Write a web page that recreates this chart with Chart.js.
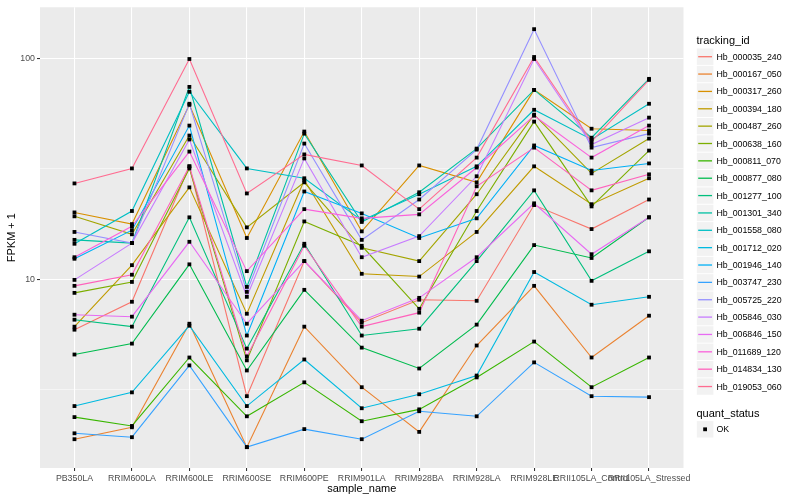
<!DOCTYPE html>
<html><head><meta charset="utf-8">
<script src="https://cdn.jsdelivr.net/npm/chart.js@4.4.0/dist/chart.umd.min.js"></script>
<style>
html,body{margin:0;padding:0;background:#fff;}
#wrap{position:relative;width:800px;height:500px;font-family:"Liberation Sans",Arial,Helvetica,sans-serif;overflow:hidden;}
#c{position:absolute;left:0;top:0;}
#keys{position:absolute;left:0;top:0;}
.lg{position:absolute;white-space:nowrap;color:#000;}
</style></head><body>
<div id="wrap"><canvas id="c" width="800" height="500"></canvas><svg id="keys" width="800" height="500" xmlns="http://www.w3.org/2000/svg"></svg><div id="legend"></div></div>
<script>
const categories = ["PB350LA","RRIM600LA","RRIM600LE","RRIM600SE","RRIM600PE","RRIM901LA","RRIM928BA","RRIM928LA","RRIM928LE","RRII105LA_Control","RRII105LA_Stressed"];
const seriesNames = ["Hb_000035_240","Hb_000167_050","Hb_000317_260","Hb_000394_180","Hb_000487_260","Hb_000638_160","Hb_000811_070","Hb_000877_080","Hb_001277_100","Hb_001301_340","Hb_001558_080","Hb_001712_020","Hb_001946_140","Hb_003747_230","Hb_005725_220","Hb_005846_030","Hb_006846_150","Hb_011689_120","Hb_014834_130","Hb_019053_060"];
const seriesColors = ["#F8766D","#EA8331","#D89000","#C09B00","#A3A500","#7CAE00","#39B600","#00BB4E","#00BF7D","#00C1A3","#00BFC4","#00BAE0","#00B0F6","#35A2FF","#9590FF","#C77CFF","#E76BF3","#FA62DB","#FF62BC","#FF6C91"];

const hb000035_240 = [5.92, 7.92, 32.5, 2.96, 12.1, 6.37, 8.09, 8.00, 21.7, 16.9, 23.0];
const hb000167_050 = [1.89, 2.14, 6.30, 1.74, 6.11, 3.25, 2.04, 5.02, 9.35, 4.43, 6.85];
const hb000317_260 = [20.1, 17.8, 61.7, 15.4, 46.7, 16.5, 32.8, 27.5, 72.1, 48.1, 47.2];
const hb000394_180 = [6.11, 11.6, 26.1, 6.99, 28.1, 10.6, 10.3, 16.4, 32.5, 21.9, 28.7];
const hb000487_260 = [19.3, 16.0, 44.8, 17.2, 27.5, 13.9, 12.1, 24.3, 55.7, 30.2, 43.4];
const hb000638_160 = [8.69, 9.74, 31.8, 4.30, 18.3, 14.2, 7.36, 20.4, 51.8, 21.4, 38.3];
const hb000811_070 = [2.38, 2.17, 4.43, 2.40, 3.42, 2.28, 2.58, 3.60, 5.23, 3.25, 4.43];
const hb000877_080 = [4.57, 5.12, 11.7, 3.87, 8.97, 4.91, 3.95, 6.24, 14.3, 12.5, 19.1];
const hb001277_100 = [6.57, 6.11, 19.1, 4.86, 14.5, 5.57, 5.98, 12.1, 25.3, 9.85, 13.4];
const hb001301_340 = [15.1, 14.6, 74.4, 9.25, 45.7, 18.2, 24.8, 39.1, 72.1, 43.8, 80.9];
const hb001558_080 = [14.5, 20.4, 70.7, 31.8, 28.7, 18.5, 24.3, 32.5, 58.6, 43.0, 62.4];
const hb001712_020 = [2.67, 3.08, 6.17, 2.67, 4.34, 2.61, 3.02, 3.67, 10.8, 7.68, 8.34];
const hb001946_140 = [12.4, 16.7, 49.7, 5.57, 25.0, 19.9, 15.4, 18.9, 40.4, 31.1, 33.5];
const hb003747_230 = [2.01, 1.93, 4.08, 1.74, 2.10, 1.89, 2.53, 2.40, 4.21, 2.96, 2.93];
const hb005725_220 = [16.4, 14.6, 62.4, 8.78, 41.2, 15.1, 23.0, 38.7, 135.8, 39.5, 45.7];
const hb005846_030 = [9.95, 14.6, 43.0, 8.34, 35.3, 12.6, 15.7, 29.3, 99.5, 40.8, 54.0];
const hb006846_150 = [6.92, 6.78, 14.8, 6.30, 12.1, 6.50, 8.25, 12.6, 22.1, 13.0, 19.1];
const hb011689_120 = [12.6, 17.4, 37.9, 10.9, 20.8, 18.9, 19.7, 32.1, 55.1, 35.6, 49.7];
const hb014834_130 = [9.35, 10.5, 32.5, 4.48, 14.2, 6.11, 7.07, 26.4, 39.5, 25.3, 29.9];
const hb019053_060 = [27.2, 31.8, 99.5, 24.5, 36.8, 32.8, 20.8, 35.6, 101.6, 42.1, 80.0];

const seriesValues = [hb000035_240, hb000167_050, hb000317_260, hb000394_180, hb000487_260, hb000638_160, hb000811_070, hb000877_080, hb001277_100, hb001301_340, hb001558_080, hb001712_020, hb001946_140, hb003747_230, hb005725_220, hb005846_030, hb006846_150, hb011689_120, hb014834_130, hb019053_060];

const yTickValues = [3.1623, 10, 31.623, 100];
const yMajorLabels = {10: "10", 100: "100"};
const quantStatus = ["OK"];

const FONT = '"Liberation Sans", Arial, Helvetica, sans-serif';
const isMajor = v => Math.abs(v - 10) < 1e-6 || Math.abs(v - 100) < 1e-6;

const panelBg = {
  id: 'panelBg',
  beforeDraw(chart) {
    const {ctx, chartArea: a} = chart;
    ctx.save();
    ctx.fillStyle = '#EBEBEB';
    ctx.fillRect(a.left, a.top, a.right - a.left, a.bottom - a.top);
    ctx.restore();
  }
};
const blackPoints = {
  id: 'blackPoints',
  afterDatasetsDraw(chart) {
    const ctx = chart.ctx;
    ctx.save();
    ctx.fillStyle = '#000';
    chart.data.datasets.forEach((ds, i) => {
      chart.getDatasetMeta(i).data.forEach(p => {
        ctx.fillRect(p.x - 1.9, p.y - 1.9, 3.8, 3.8);
      });
    });
    ctx.restore();
  }
};

const datasets = seriesNames.map((name, i) => ({
  label: name,
  data: seriesValues[i].map((v, j) => ({x: j, y: v})),
  borderColor: seriesColors[i],
  backgroundColor: seriesColors[i],
  borderWidth: 1.1,
  pointRadius: 0,
  pointHoverRadius: 0,
  fill: false,
  tension: 0,
  order: seriesNames.length - 1 - i
}));

new Chart(document.getElementById('c'), {
  type: 'line',
  data: {datasets},
  plugins: [panelBg, blackPoints],
  options: {
    responsive: false,
    animation: false,
    devicePixelRatio: 1,
    layout: {padding: {left: 0, top: 5, right: 116.5, bottom: 0}},
    plugins: {legend: {display: false}, tooltip: {enabled: false}},
    events: [],
    scales: {
      x: {
        type: 'linear', min: -0.6, max: 10.6,
        afterBuildTicks: axis => { axis.ticks = categories.map((c, i) => ({value: i})); },
        afterFit: axis => { axis.height = 32; },
        grid: {color: '#FFFFFF', lineWidth: 1.07, drawTicks: true, tickLength: 3, tickColor: '#333333', tickWidth: 1.07},
        border: {display: false},
        ticks: {autoSkip: false, maxRotation: 0, minRotation: 0, color: '#4D4D4D', padding: 2,
          font: {size: 8.8, family: FONT},
          callback: v => categories[v]},
        title: {display: true, text: 'sample_name', color: '#000000', font: {size: 11, family: FONT}, padding: {top: 0, bottom: 4.4}}
      },
      y: {
        type: 'logarithmic', min: 1.40, max: 170.6,
        afterBuildTicks: axis => { axis.ticks = yTickValues.map(v => ({value: v})); },
        afterFit: axis => { axis.width = 40; },
        grid: {color: '#FFFFFF',
          lineWidth: c => (c.tick && isMajor(c.tick.value)) ? 1.07 : 0.53,
          tickColor: c => (c.tick && isMajor(c.tick.value)) ? '#333333' : 'rgba(0,0,0,0)',
          drawTicks: true, tickLength: 3, tickWidth: 1.07},
        border: {display: false},
        ticks: {autoSkip: false, color: '#4D4D4D', padding: 2, font: {size: 8.8, family: FONT},
          callback: v => { for (const k in yMajorLabels) { if (Math.abs(v - Number(k)) < 1e-6) return yMajorLabels[k]; } return ''; }},
        title: {display: true, text: 'FPKM + 1', color: '#000000', font: {size: 11, family: FONT}, padding: {top: 5.4, bottom: 0}}
      }
    }
  }
});

// Legend: keys in SVG, labels as HTML text
const svgNS = 'http://www.w3.org/2000/svg';
const svg = document.getElementById('keys');
const lg = document.getElementById('legend');
function addText(txt, left, cy, size) {
  const d = document.createElement('div');
  d.className = 'lg';
  d.style.left = left + 'px';
  d.style.top = (cy - 10) + 'px';
  d.style.height = '20px';
  d.style.lineHeight = '20px';
  d.style.fontSize = size + 'px';
  d.textContent = txt;
  lg.appendChild(d);
}
function svgEl(tag, attrs) {
  const e = document.createElementNS(svgNS, tag);
  for (const k in attrs) e.setAttribute(k, attrs[k]);
  svg.appendChild(e);
  return e;
}
function addKey(cy) {
  svgEl('rect', {x: 696.8, y: cy - 8.2, width: 16.6, height: 16.4, fill: '#F2F2F2'});
}
addText('tracking_id', 696.5, 40, 11);
const step = 17.36, y0 = 56.7;
seriesNames.forEach((n, i) => {
  const cy = y0 + i * step;
  addKey(cy);
  svgEl('line', {x1: 698.2, x2: 712, y1: cy, y2: cy, stroke: seriesColors[i], 'stroke-width': 1.3});
  addText(n, 716.5, cy, 8.8);
});
addText('quant_status', 696.5, 412.7, 11);
quantStatus.forEach((q, i) => {
  const cy = 429.3 + i * step;
  addKey(cy);
  svgEl('rect', {x: 703.2, y: cy - 1.9, width: 3.8, height: 3.8, fill: '#000'});
  addText(q, 716.5, cy, 8.8);
});
</script>
</body></html>
